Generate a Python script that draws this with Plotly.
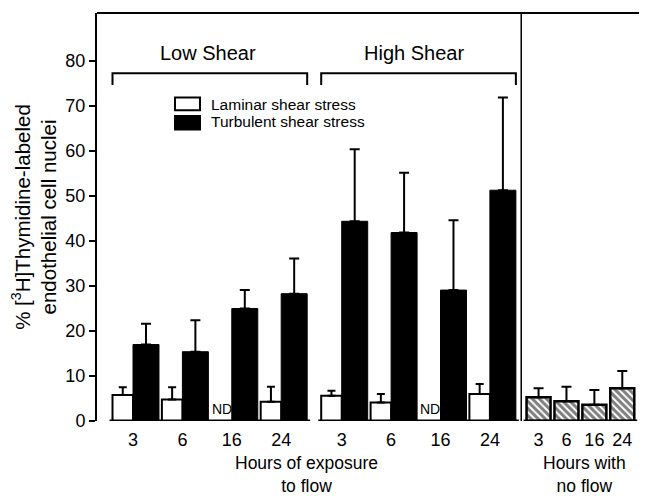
import plotly.graph_objects as go

# ---------------- data ----------------
hours = ["3", "6", "16", "24"]
low_laminar = [5.8, 4.8, None, 4.3]          # None = ND
low_laminar_err = [1.7, 2.7, None, 3.3]
low_turbulent = [17.0, 15.4, 25.0, 28.3]
low_turbulent_err = [4.6, 7.0, 4.1, 7.8]
high_laminar = [5.6, 4.1, None, 6.0]
high_laminar_err = [1.1, 1.9, None, 2.2]
high_turbulent = [44.4, 41.9, 29.1, 51.3]
high_turbulent_err = [16.0, 13.3, 15.5, 20.6]
noflow = [5.3, 4.4, 3.6, 7.3]
noflow_err = [2.0, 3.2, 3.3, 3.8]

# ---------------- layout helpers ----------------
FONT = "Liberation Sans, Arial, Helvetica, sans-serif"
W_LAM, W_TURB, W_NF = 0.415, 0.526, 0.486
low_pos = [0, 1, 2, 3]
high_pos = [4.225 + i for i in range(4)]
nf_pos = [8.21 + 0.565 * i for i in range(4)]

def lam_x(p):
    return [c - W_LAM / 2 for c in p]

def turb_x(p):
    return [c + W_TURB / 2 for c in p]

def up_err(errs, cap):
    return dict(type="data", symmetric=False,
                array=[e if e is not None else 0 for e in errs],
                arrayminus=[0] * len(errs),
                color="black", thickness=2, width=cap, visible=True)

fig = go.Figure()

lam_style = dict(color="white", line=dict(color="black", width=2))
turb_style = dict(color="black", line=dict(color="black", width=1))

fig.add_trace(go.Bar(x=lam_x(low_pos), y=low_laminar, width=W_LAM,
                     marker=lam_style, error_y=up_err(low_laminar_err, 4),
                     name="Laminar shear stress", showlegend=False))
fig.add_trace(go.Bar(x=turb_x(low_pos), y=low_turbulent, width=W_TURB,
                     marker=turb_style, error_y=up_err(low_turbulent_err, 5),
                     name="Turbulent shear stress", showlegend=False))
fig.add_trace(go.Bar(x=lam_x(high_pos), y=high_laminar, width=W_LAM,
                     marker=lam_style, error_y=up_err(high_laminar_err, 4),
                     name="Laminar shear stress", showlegend=False))
fig.add_trace(go.Bar(x=turb_x(high_pos), y=high_turbulent, width=W_TURB,
                     marker=turb_style, error_y=up_err(high_turbulent_err, 5),
                     name="Turbulent shear stress", showlegend=False))
fig.add_trace(go.Bar(x=nf_pos, y=noflow, width=W_NF,
                     marker=dict(color="white", line=dict(color="black", width=2.5),
                                 pattern=dict(shape="\\", fgcolor="black", bgcolor="white",
                                              size=5, solidity=0.6)),
                     error_y=up_err(noflow_err, 5),
                     name="No flow", showlegend=False))

shapes = []
# top frame line
shapes.append(dict(type="line", xref="paper", yref="paper", x0=0, x1=1, y0=1, y1=1,
                   line=dict(color="black", width=2)))
# divider
div_x = (high_pos[-1] + W_TURB + nf_pos[0] - W_NF / 2) / 2
shapes.append(dict(type="line", xref="x", yref="paper", x0=div_x, x1=div_x, y0=0, y1=1,
                   line=dict(color="black", width=1.5)))
# baseline segments
pad = 0.06
segs = [(low_pos[0] - W_LAM, low_pos[-1] + W_TURB),
        (high_pos[0] - W_LAM, high_pos[-1] + W_TURB),
        (nf_pos[0] - W_NF / 2, nf_pos[-1] + W_NF / 2)]
for a, b in segs:
    shapes.append(dict(type="line", xref="x", yref="y", x0=a - pad, x1=b + pad, y0=0, y1=0,
                       line=dict(color="black", width=3), layer="above"))
# brackets
for a, b in segs[:2]:
    shapes.append(dict(type="path", xref="x", yref="y",
                       path=f"M {a},74.7 L {a},77.3 L {b},77.3 L {b},74.7",
                       line=dict(color="black", width=2)))
# legend boxes
shapes.append(dict(type="rect", xref="x", yref="y", x0=0.85, x1=1.356, y0=69.1, y1=71.9,
                   line=dict(color="black", width=2), fillcolor="white"))
shapes.append(dict(type="rect", xref="x", yref="y", x0=0.85, x1=1.356, y0=64.8, y1=67.8,
                   line=dict(color="black", width=2), fillcolor="black"))

annotations = [
    dict(x=1.51, y=81.8, xref="x", yref="y", text="Low Shear", showarrow=False,
         font=dict(size=20, family=FONT, color="black")),
    dict(x=5.68, y=81.8, xref="x", yref="y", text="High Shear", showarrow=False,
         font=dict(size=20, family=FONT, color="black")),
    dict(x=1.545, y=70.4, xref="x", yref="y", text="Laminar shear stress", showarrow=False,
         xanchor="left", font=dict(size=15.5, family=FONT, color="black")),
    dict(x=1.545, y=66.6, xref="x", yref="y", text="Turbulent shear stress", showarrow=False,
         xanchor="left", font=dict(size=15.5, family=FONT, color="black")),
    dict(x=low_pos[2] - W_LAM / 2, y=0.5, xref="x", yref="y", text="ND", showarrow=False,
         yanchor="bottom", font=dict(size=14, family=FONT, color="black")),
    dict(x=high_pos[2] - W_LAM / 2, y=0.5, xref="x", yref="y", text="ND", showarrow=False,
         yanchor="bottom", font=dict(size=14, family=FONT, color="black")),
    dict(x=3.52, y=-0.074, xref="x", yref="paper", yanchor="top",
         text="Hours of exposure<br>to flow", showarrow=False,
         font=dict(size=17.5, family=FONT, color="black")),
    dict(x=9.15, y=-0.074, xref="x", yref="paper", yanchor="top",
         text="Hours with<br>no flow", showarrow=False,
         font=dict(size=17.5, family=FONT, color="black")),
]

tickvals = low_pos + high_pos + nf_pos
ticktext = hours * 3

# the page body has an 8px margin: the figure is sized so the plot area lands
# at the same window pixels as the reference (x 97-646, y 13-421)
fig.update_layout(
    width=639, height=492,
    margin=dict(l=89, r=1, t=5, b=79),
    plot_bgcolor="white", paper_bgcolor="white",
    barmode="overlay",
    font=dict(family=FONT, color="black"),
    shapes=shapes, annotations=annotations,
    xaxis=dict(range=[-0.7287, 10.385], tickvals=tickvals, ticktext=ticktext,
               ticks="", showline=False, showgrid=False, zeroline=False, automargin=False,
               tickfont=dict(size=18, family=FONT, color="black"), ticklabelstandoff=6),
    yaxis=dict(range=[0, 90.7], tickvals=list(range(0, 81, 10)), ticks="outside",
               ticklen=6, tickwidth=2, tickcolor="black", showline=True, linewidth=2,
               linecolor="black", showgrid=False, zeroline=False, automargin=False,
               tickfont=dict(size=18, family=FONT, color="black"),
               title=dict(text="% [<sup>3</sup>H]Thymidine-labeled<br>endothelial cell nuclei",
                          font=dict(size=20.5, family=FONT, color="black"), standoff=12)),
)

fig.write_html("out.html")
